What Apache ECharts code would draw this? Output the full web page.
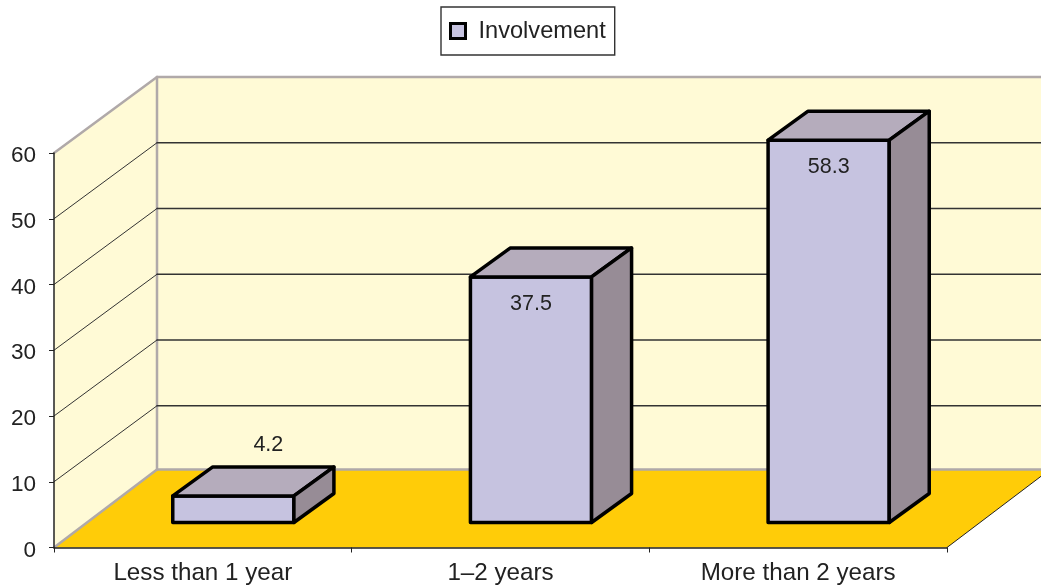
<!DOCTYPE html>
<html>
<head>
<meta charset="utf-8">
<style>html,body{margin:0;padding:0;background:#fff}#c{width:1041px;height:585px}</style>
<script src="https://cdn.jsdelivr.net/npm/echarts@6/dist/echarts.min.js"></script>
</head>
<body>
<div id="c"></div>
<script>
var categories = ['Less than 1 year', '1–2 years', 'More than 2 years'];
var involvement = [4.2, 37.5, 58.3];
var yTicks = [0, 10, 20, 30, 40, 50, 60];

var wallDx = 103, wallDy = 78, wallTopDy = 76, gridDy = 76; // floor depth in pixels
var barInsetX = 30.5, barInsetY = 25, barTopInset = 24;     // bar position inside the floor depth
var barDx = 40, barDy = 29;         // bar depth
var barShare = 0.407;               // bar width / category width
var insideLabelDrop = 27, outsideLabelRise = 22;
var font = '"Liberation Sans", Arial, sans-serif';
var edgeGray = '#b0a9a9', wallColor = '#fffad6', floorColor = '#ffcc08';

function poly(points, fill, stroke, width) {
  return { type: 'polygon', shape: { points: points },
    style: { fill: fill, stroke: stroke || null, lineWidth: width || 0, lineJoin: 'round' } };
}
function seg(x1, y1, x2, y2, color, width) {
  return { type: 'line', shape: { x1: x1, y1: y1, x2: x2, y2: y2 },
    style: { stroke: color, lineWidth: width, lineCap: 'round' } };
}

function renderRoom(params, api) {
  var c = params.coordSys, L = c.x, R = c.x + c.width, T = c.y, B = c.y + c.height;
  var bx = L + wallDx, by = B - wallDy, ty = T - wallTopDy;
  return { type: 'group', children: [
    poly([[L, B], [bx, by], [bx, ty], [L, T]], wallColor),
    poly([[bx, by], [R + wallDx, by], [R + wallDx, ty], [bx, ty]], wallColor),
    poly([[L, B], [bx, by], [R + wallDx, by], [R, B]], floorColor),
    seg(R, B, R + wallDx, by, '#222', 1),
    seg(L, B, bx, by, edgeGray, 2.5),
    seg(bx, by, R + wallDx, by, edgeGray, 2.5),
    seg(bx, by, bx, ty, edgeGray, 2.5),
    seg(bx, ty, R + wallDx, ty, edgeGray, 2.5),
    seg(L, T, bx, ty, edgeGray, 2.5)
  ] };
}

function renderGridLine(params, api) {
  var v = api.value(1);
  if (v === yTicks[0] || v === yTicks[yTicks.length - 1]) return null;
  var c = params.coordSys, y = api.coord([0, v])[1], L = c.x, R = c.x + c.width;
  return { type: 'group', children: [
    seg(L, y, L + wallDx, y - gridDy, '#333', 1),
    seg(L + wallDx, y - gridDy, R + wallDx, y - gridDy, '#333', 1.4)
  ] };
}

function renderBar(params, api) {
  var v = api.value(1);
  var p = api.coord([api.value(0), v]), base = api.coord([api.value(0), 0]);
  var w = api.size([1, 0])[0] * barShare;
  var x0 = base[0] + barInsetX - w / 2, x1 = x0 + w;
  var yb = base[1] - barInsetY, yt = p[1] - barTopInset;
  var low = v < 10;
  return { type: 'group', children: [
    poly([[x0, yb], [x1, yb], [x1, yt], [x0, yt]], '#c6c3e0', '#000', 3.5),
    poly([[x0, yt], [x0 + barDx, yt - barDy], [x1 + barDx, yt - barDy], [x1, yt]], '#b5acbc', '#000', 3.5),
    poly([[x1, yb], [x1 + barDx, yb - barDy], [x1 + barDx, yt - barDy], [x1, yt]], '#978c96', '#000', 3.5),
    { type: 'text', style: {
        text: String(v), font: '21.5px ' + font, fill: '#222',
        x: low ? x0 + w / 2 + barDx / 2 + 15 : x0 + w / 2,
        y: low ? yt - barDy - outsideLabelRise : yt + insideLabelDrop,
        align: 'center', verticalAlign: 'middle' } }
  ] };
}

var chart = echarts.init(document.getElementById('c'), null, { renderer: 'canvas' });
chart.setOption({
  animation: false,
  backgroundColor: '#fff',
  grid: { left: 54, right: 94, top: 153, bottom: 35, containLabel: false },
  legend: {
    data: [{ name: 'Involvement', icon: 'rect',
      itemStyle: { color: '#c6c3e0', borderColor: '#000', borderWidth: 3 } }],
    left: 441, top: 7, padding: [12, 9, 12, 8],
    itemWidth: 15, itemHeight: 15, itemGap: 0,
    borderColor: '#333', borderWidth: 1.4, backgroundColor: '#fff',
    textStyle: { fontFamily: font, fontSize: 23.6, color: '#222', padding: [0, 0, 0, 8] },
    selectedMode: false
  },
  xAxis: {
    type: 'category', data: categories, z: 6,
    axisLine: { lineStyle: { color: '#222', width: 1.5 } },
    axisTick: { show: true, alignWithLabel: false, length: 5, lineStyle: { color: '#222', width: 1 } },
    axisLabel: { fontFamily: font, fontSize: 24.2, color: '#222', margin: 13.5 },
    splitLine: { show: false }
  },
  yAxis: {
    type: 'value', min: 0, max: 60, interval: 10, z: 6,
    axisLine: { show: true, lineStyle: { color: '#222', width: 1.5 } },
    axisTick: { show: true, length: 5, lineStyle: { color: '#222', width: 1 } },
    axisLabel: { fontFamily: font, fontSize: 22.5, color: '#222', margin: 18, verticalAlign: 'top', lineHeight: 6 },
    splitLine: { show: false }
  },
  series: [
    { type: 'custom', name: 'room', z: 1, silent: true, renderItem: renderRoom, data: [[0, 0]] },
    { type: 'custom', name: 'grid', z: 2, silent: true, renderItem: renderGridLine,
      data: yTicks.map(function (t) { return [0, t]; }) },
    { type: 'custom', name: 'Involvement', z: 3, renderItem: renderBar,
      itemStyle: { color: '#c6c3e0' },
      data: involvement.map(function (v, i) { return [i, v]; }) }
  ]
});
</script>
</body>
</html>
